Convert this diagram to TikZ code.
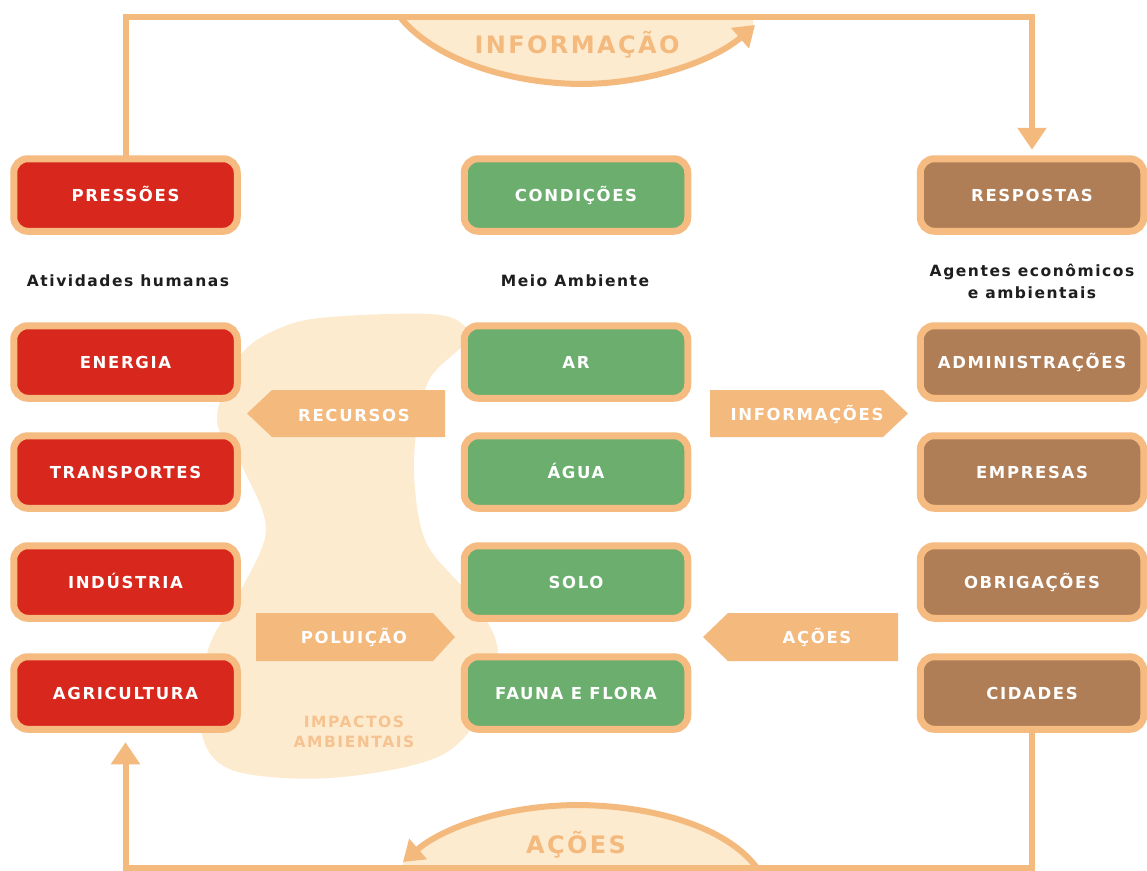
\documentclass[tikz,border=0pt]{standalone}
\usepackage{fontspec}
\setmainfont{DejaVu Sans}
\newfontfamily\wide{DejaVu Sans}[LetterSpace=10]
\usetikzlibrary{arrows.meta}
\definecolor{cred}{HTML}{D8281E}
\definecolor{cgreen}{HTML}{6BAE6E}
\definecolor{cbrown}{HTML}{B07E56}
\definecolor{cborder}{HTML}{F5BB80}
\definecolor{carrow}{HTML}{F4B97D}
\definecolor{ccream}{HTML}{FDEBD0}
\definecolor{cimpact}{HTML}{F6C390}
\definecolor{cdark}{HTML}{1E1E1E}
\begin{document}
\begin{tikzpicture}[x=1pt,y=-1pt,
  box/.style={draw=cborder, line width=7pt, rounded corners=14pt,
    minimum width=223.5pt, minimum height=72.5pt, outer sep=0pt, inner sep=0pt,
    text=white, font=\wide\bfseries\fontsize{16.5}{18}\selectfont,
    text height=12pt, text depth=0pt},
  redbox/.style={box, fill=cred},
  greenbox/.style={box, fill=cgreen},
  brownbox/.style={box, fill=cbrown},
  arrtext/.style={text=white, font=\wide\bfseries\fontsize{16.5}{18}\selectfont,
    text height=12pt, text depth=0pt, inner sep=0pt},
  collabel/.style={text=cdark, font=\wide\bfseries\fontsize{15.5}{22}\selectfont, inner sep=0pt, align=center},
  bigtext/.style={text=carrow, font=\wide\bfseries\fontsize{24}{26}\selectfont,
    text height=17.5pt, text depth=0pt, inner sep=0pt},
  impact/.style={text=cimpact, font=\wide\bfseries\fontsize{15.5}{20.5}\selectfont, inner sep=0pt, align=center},
  flow/.style={draw=carrow, line width=6pt},
  tip/.style={-{Triangle[length=22pt,width=28pt]}},
  arctip/.style={-{Triangle[length=20pt,width=26pt]}},
]
\useasboundingbox (0,0) rectangle (1147,870);
\fill[white] (0,0) rectangle (1147,870);

% impact blob
\fill[ccream] plot[smooth cycle, tension=0.55] coordinates {
  (330,317) (440,315) (468,338) (428,382) (414,460) (425,540) (468,594)
  (497,645) (488,702) (440,756) (330,778) (232,770) (201,730) (208,650)
  (240,592) (266,530) (244,470) (217,420) (240,356) (280,328)};

% top information arc
\fill[ccream] (400,17) .. controls (430,55) and (500,83) .. (580,84)
  .. controls (650,84) and (715,60) .. (753,27) -- (753,17) -- cycle;
\draw[flow, arctip] (400,17) .. controls (430,55) and (500,83) .. (580,84)
  .. controls (650,84) and (715,60) .. (755,25);
\node[bigtext] (informacao) at (577,44.5) {INFORMAÇÃO};

% bottom actions arc
\fill[ccream] (757,868) .. controls (725,825) and (650,806) .. (580,805)
  .. controls (500,805) and (440,830) .. (403,862) -- (403,870) -- (757,870) -- cycle;
\draw[flow, arctip] (757,868) .. controls (725,825) and (650,806) .. (580,805)
  .. controls (500,805) and (440,830) .. (403,862);
\node[bigtext] (acoesbig) at (576,845) {AÇÕES};

% boxes
\node[redbox] (pressoes) at (125.5,195) {PRESSÕES};
\node[redbox] (energia) at (125.5,362) {ENERGIA};
\node[redbox] (transportes) at (125.5,472) {TRANSPORTES};
\node[redbox] (industria) at (125.5,582) {INDÚSTRIA};
\node[redbox] (agricultura) at (125.5,693) {AGRICULTURA};

\node[greenbox] (condicoes) at (576,195) {CONDIÇÕES};
\node[greenbox] (ar) at (576,362) {AR};
\node[greenbox] (agua) at (576,472) {ÁGUA};
\node[greenbox] (solo) at (576,582) {SOLO};
\node[greenbox] (fauna) at (576,693) {FAUNA E FLORA};

\node[brownbox] (respostas) at (1032,195) {RESPOSTAS};
\node[brownbox] (administracoes) at (1032,362) {ADMINISTRAÇÕES};
\node[brownbox] (empresas) at (1032,472) {EMPRESAS};
\node[brownbox] (obrigacoes) at (1032,582) {OBRIGAÇÕES};
\node[brownbox] (cidades) at (1032,693) {CIDADES};

% column labels
\node[collabel] (lblpress) at (128,281) {Atividades humanas};
\node[collabel] (lblcond) at (575,281) {Meio Ambiente};
\node[collabel] (lblresp) at (1032,281) {Agentes econômicos\\e ambientais};

% loop connectors
\coordinate (ytop) at (0,17);
\coordinate (ybot) at (0,868);
\draw[flow, tip] (pressoes.north) -- (pressoes.north |- ytop)
  -- (respostas.north |- ytop) -- ([yshift=9pt]respostas.north);
\draw[flow, tip] (cidades.south) -- (cidades.south |- ybot)
  -- (agricultura.south |- ybot) -- ([yshift=-13pt]agricultura.south);

% block arrows
\fill[carrow] (272,390) -- (445,390) -- (445,437) -- (272,437) -- (247,413.5) -- cycle;
\node[arrtext] (recursos) at (354,415) {RECURSOS};
\fill[carrow] (256,613) -- (433,613) -- (455,637) -- (433,661) -- (256,661) -- cycle;
\node[arrtext] (poluicao) at (354,637.5) {POLUIÇÃO};
\fill[carrow] (710,390) -- (883,390) -- (908,413.5) -- (883,437) -- (710,437) -- cycle;
\node[arrtext] (informacoes) at (807,414) {INFORMAÇÕES};
\fill[carrow] (728,613) -- (898,613) -- (898,661) -- (728,661) -- (703,637) -- cycle;
\node[arrtext] (acoes) at (817,637.5) {AÇÕES};

\node[impact] (impactos) at (354,732) {IMPACTOS\\AMBIENTAIS};
\end{tikzpicture}
\end{document}
